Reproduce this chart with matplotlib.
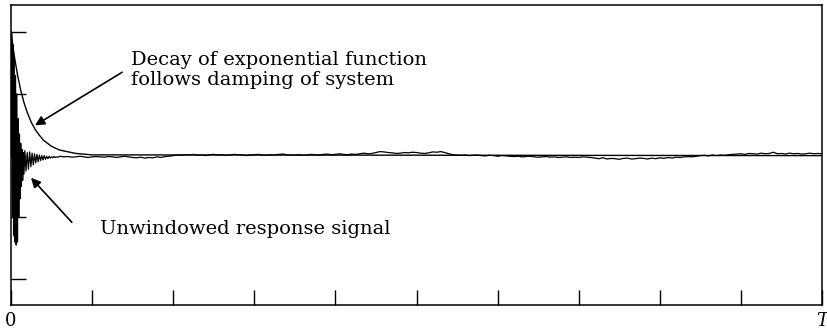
import numpy as np
import matplotlib.pyplot as plt

# ---------------- datos ----------------
# funcion exponencial (ventana)
exp_t = [0.0, 0.004, 0.008, 0.012, 0.016, 0.02, 0.025, 0.03, 0.035, 0.04,
         0.05, 0.06, 0.08, 0.1, 1.0]
exp_v = [2.0, 1.62, 1.31, 1.06, 0.86, 0.70, 0.54, 0.42, 0.33, 0.25,
         0.15, 0.09, 0.035, 0.012, 0.0]

# respuesta sin ventana: arranque (t 0 .. 0.016)
burst_v = [0.0, 2.0, -1.0, 1.8, -1.3, 1.6, -1.4, 1.3, -1.45, 1.0,
           -1.4, 0.6, -1.0, 0.35, -0.7, 0.2, -0.5, 0.1, -0.4, 0.05, -0.3]
# oscilacion amortiguada (t 0.017 .. 0.059)
tail_v = [0.08, -0.25, 0.05, -0.22, 0.06, -0.18, 0.04, -0.15, 0.03, -0.12,
          0.02, -0.1, 0.01, -0.08, 0.0, -0.07, 0.0, -0.06, -0.01, -0.05,
          -0.01, -0.04, -0.02, -0.035, -0.015, -0.03, -0.02, -0.025, -0.02]
# deriva lenta del resto (t 0.06 .. 1.0)
drift_v = [-0.01, -0.02, -0.015, -0.025, -0.02, -0.01, -0.02, -0.03, -0.02, -0.015,
           -0.02, -0.025, -0.015, -0.02, -0.03, -0.02, -0.01, -0.02,
           -0.03, -0.035, -0.025, -0.04, -0.03, -0.035, -0.02, -0.03, -0.015, -0.01,
           0.0, 0.01, 0.005, 0.015, 0.01, 0.02, 0.005, 0.01, 0.0, 0.015,
           0.02, 0.01, 0.015, 0.005, 0.01, 0.02, 0.015, 0.01, 0.0, 0.01,
           0.015, 0.02, 0.01, 0.005, 0.015, 0.01, 0.02, 0.025, 0.015, 0.01,
           0.01, 0.015, 0.005, 0.01, 0.02, 0.015, 0.01, 0.02, 0.025, 0.015,
           0.02, 0.03, 0.02, 0.015, 0.025, 0.02, 0.03, 0.04, 0.03, 0.035,
           0.05, 0.065, 0.06, 0.05, 0.045, 0.035, 0.04, 0.05, 0.045, 0.055,
           0.05, 0.04, 0.035, 0.045, 0.06, 0.055, 0.065, 0.05, 0.03, 0.015,
           0.01, 0.005, 0.01, 0.0, 0.005, 0.01, 0.0, -0.005, 0.005, 0.0,
           -0.01, 0.0, -0.005, -0.01, -0.015, -0.01, -0.02, -0.015, -0.01, -0.02,
           -0.025, -0.02, -0.015, -0.025, -0.02, -0.03, -0.025, -0.02, -0.03, -0.025,
           -0.03, -0.02, -0.025, -0.03,
           -0.04, -0.05, -0.035, -0.055, -0.045, -0.05, -0.06, -0.045, -0.04, -0.055,
           -0.05, -0.04, -0.045, -0.055, -0.04, -0.05, -0.035, -0.045, -0.03, -0.04,
           -0.025, -0.03, -0.02, -0.015, -0.02, -0.01,
           0.0, 0.005, -0.005, 0.01, 0.0, 0.01, 0.005, 0.015,
           0.02, 0.025, 0.03, 0.02, 0.035, 0.03, 0.025, 0.04, 0.03, 0.035,
           0.055, 0.03, 0.035, 0.025, 0.04, 0.03, 0.035, 0.025, 0.03, 0.04,
           0.03, 0.035, 0.03]

x_ticks = np.arange(0, 1.01, 0.1)
x_labels = ['0', '', '', '', '', '', '', '', '', '', 'T']
y_ticks = [-2, -1, 0, 1, 2]

# tiempos de muestreo
t_burst = np.linspace(0, 0.016, len(burst_v))
t_tail = np.linspace(0.017, 0.059, len(tail_v))
t_drift = np.linspace(0.06, 1.0, len(drift_v))
t_resp = np.concatenate([t_burst, t_tail, t_drift])
resp = np.concatenate([burst_v, tail_v, drift_v])

# =============================================================================
#                              PLOTEO
# =============================================================================
plt.rcParams['font.family'] = ['DejaVu Serif']

fig = plt.figure(figsize=(8.27, 3.35), dpi=100)
ax = fig.add_axes([11/827, 1 - 305/335, 811/827, 300/335])

ax.plot(exp_t, exp_v, color='black', lw=1.0)
ax.plot(t_resp, resp, color='black', lw=0.9)

ax.set_xlim(0, 1)
ax.set_ylim(-2.42, 2.44)
ax.set_xticks(x_ticks)
ax.set_xticklabels(x_labels, fontsize=13)
ax.set_yticks(y_ticks)
ax.set_yticklabels([])
ax.tick_params(direction='in', length=11, width=1.0, color='black')
ax.tick_params(axis='x', pad=5)
for lbl in ax.get_xticklabels():
    if lbl.get_text() == 'T':
        lbl.set_fontstyle('italic')
for s in ax.spines.values():
    s.set_linewidth(1.1)

flecha = dict(arrowstyle='-|>', color='black', lw=1.2, mutation_scale=14,
              shrinkA=0, shrinkB=0)
ax.annotate('', xy=(0.0296, 0.49), xytext=(0.137, 1.35), arrowprops=flecha)
ax.annotate('', xy=(0.0247, -0.36), xytext=(0.075, -1.08), arrowprops=flecha)

ax.text(0.148, 1.385, 'Decay of exponential function\nfollows damping of system',
        fontsize=14, ha='left', va='center', linespacing=1.1)
ax.text(0.11, -1.19, 'Unwindowed response signal',
        fontsize=14, ha='left', va='center')

fig.savefig('out.png', dpi=100)
